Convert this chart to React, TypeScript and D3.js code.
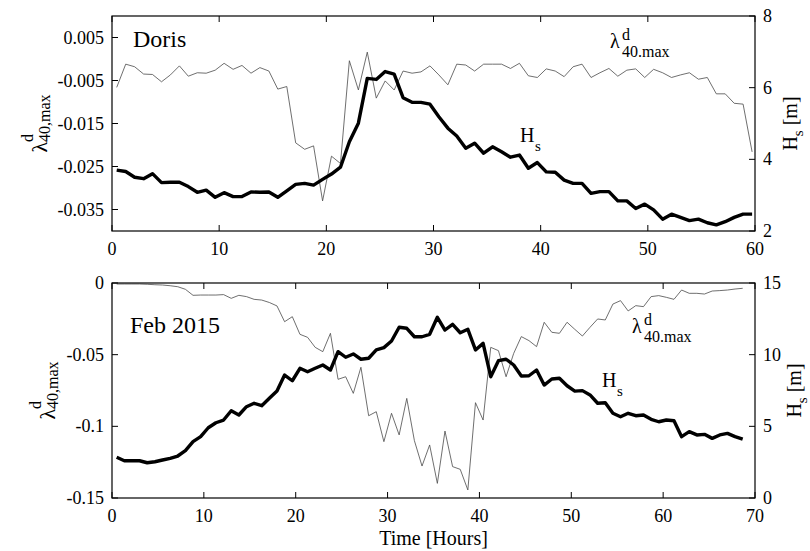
import React from 'react';
import * as d3 from 'd3';

// ---------- data ----------
const TOP_HOURS = [
  0.44, 1.28, 2.11, 2.95, 3.78, 4.62, 5.45, 6.29, 7.12, 7.96,
  8.79, 9.63, 10.46, 11.3, 12.13, 12.97, 13.8, 14.64, 15.47, 16.31,
  17.14, 17.98, 18.81, 19.65, 20.48, 21.32, 22.15, 22.99, 23.82, 24.66,
  25.49, 26.33, 27.16, 28.0, 28.83, 29.67, 30.5, 31.34, 32.17, 33.01,
  33.84, 34.68, 35.51, 36.35, 37.18, 38.02, 38.85, 39.69, 40.52, 41.36,
  42.19, 43.03, 43.86, 44.7, 45.53, 46.37, 47.2, 48.04, 48.87, 49.71,
  50.54, 51.38, 52.21, 53.05, 53.88, 54.72, 55.55, 56.39, 57.22, 58.06,
  58.89, 59.73,
];
const TOP_LAMBDA = [
  -0.0066, -0.0012, -0.0018, -0.0035, -0.0036, -0.0053, -0.0037, -0.0016, -0.004, -0.0032,
  -0.0033, -0.0026, -0.001, -0.0024, -0.0015, -0.0033, -0.002, -0.0028, -0.007, -0.0064,
  -0.0195, -0.021, -0.0202, -0.033, -0.0226, -0.0243, -0.0004, -0.0072, 0.0016, -0.0091,
  -0.0051, -0.0072, -0.0028, -0.0033, -0.003, -0.0016, -0.0037, -0.006, -0.0012, -0.0014,
  -0.0028, -0.0012, -0.0012, -0.0012, -0.0022, -0.001, -0.0039, -0.0043, -0.0023, -0.0028,
  -0.0041, -0.0018, -0.0012, -0.0043, -0.0032, -0.0022, -0.004, -0.0026, -0.0023, -0.0043,
  -0.0024, -0.0032, -0.0043, -0.0037, -0.0032, -0.0047, -0.0043, -0.0081, -0.0081, -0.0103,
  -0.0105, -0.0216,
];
const TOP_HS = [
  3.7, 3.66, 3.5, 3.46, 3.6, 3.35, 3.36, 3.36, 3.24, 3.08,
  3.14, 2.94, 3.07, 2.96, 2.96, 3.09, 3.08, 3.09, 2.94, 3.12,
  3.3, 3.33, 3.28, 3.44, 3.59, 3.78, 4.49, 5.01, 6.26, 6.23,
  6.45, 6.38, 5.72, 5.59, 5.59, 5.54, 5.19, 4.87, 4.65, 4.31,
  4.45, 4.17, 4.35, 4.21, 4.06, 4.12, 3.75, 3.91, 3.65, 3.64,
  3.42, 3.33, 3.33, 3.05, 3.1, 3.1, 2.84, 2.84, 2.63, 2.75,
  2.59, 2.33, 2.47, 2.38, 2.29, 2.33, 2.23, 2.17, 2.26, 2.38,
  2.47, 2.47,
];

const BOT_HOURS = [
  0.51, 1.34, 2.17, 3.0, 3.83, 4.67, 5.5, 6.33, 7.16, 7.99,
  8.82, 9.65, 10.48, 11.31, 12.15, 12.98, 13.81, 14.64, 15.47, 16.3,
  17.13, 17.96, 18.79, 19.63, 20.46, 21.29, 22.12, 22.95, 23.78, 24.61,
  25.44, 26.27, 27.1, 27.94, 28.77, 29.6, 30.43, 31.26, 32.09, 32.92,
  33.75, 34.58, 35.42, 36.25, 37.08, 37.91, 38.74, 39.57, 40.4, 41.23,
  42.07, 42.9, 43.73, 44.56, 45.39, 46.22, 47.05, 47.88, 48.71, 49.54,
  50.38, 51.21, 52.04, 52.87, 53.7, 54.53, 55.36, 56.19, 57.02, 57.86,
  58.69, 59.52, 60.35, 61.18, 62.01, 62.84, 63.67, 64.5, 65.34, 66.17,
  67.0, 67.83, 68.66,
];
const BOT_LAMBDA = [
  -0.0007, -0.0007, -0.0007, -0.0007, -0.0009, -0.0012, -0.0014, -0.0019, -0.0026, -0.0044,
  -0.0086, -0.0084, -0.0084, -0.0084, -0.0081, -0.0107, -0.0086, -0.0095, -0.0114, -0.0119,
  -0.0136, -0.016, -0.027, -0.0235, -0.0358, -0.0379, -0.0449, -0.0479, -0.0351, -0.0672,
  -0.0654, -0.077, -0.0588, -0.0926, -0.0898, -0.1107, -0.0909, -0.106, -0.0805, -0.11,
  -0.1277, -0.113, -0.1398, -0.1033, -0.1281, -0.13, -0.1444, -0.0835, -0.0956, -0.0449,
  -0.0472, -0.0654, -0.0491, -0.0374, -0.0402, -0.0444, -0.0274, -0.0344, -0.0351, -0.0274,
  -0.0323, -0.037, -0.0309, -0.0251, -0.0258, -0.0147, -0.0123, -0.0195, -0.0158, -0.0165,
  -0.0095, -0.0088, -0.01, -0.0114, -0.0049, -0.0072, -0.0072, -0.0077, -0.0056, -0.0053,
  -0.0049, -0.0042, -0.0037,
];
const BOT_HS = [
  2.84, 2.6, 2.6, 2.6, 2.46, 2.53, 2.65, 2.77, 2.93, 3.3,
  3.93, 4.28, 4.9, 5.25, 5.44, 6.09, 5.79, 6.37, 6.61, 6.44,
  6.96, 7.46, 8.58, 8.18, 9.05, 8.81, 9.05, 9.28, 8.93, 10.21,
  9.82, 10.05, 9.68, 9.75, 10.33, 10.49, 10.95, 11.91, 11.84, 11.25,
  11.25, 11.42, 12.61, 11.72, 12.12, 11.53, 11.77, 10.33, 10.79, 8.46,
  9.58, 9.68, 9.28, 8.51, 8.53, 8.93, 7.88, 8.3, 8.35, 7.83,
  7.46, 7.49, 7.19, 6.61, 6.65, 5.91, 5.67, 5.91, 5.74, 5.79,
  5.49, 5.32, 5.44, 5.39, 4.28, 4.63, 4.4, 4.44, 4.16, 4.4,
  4.51, 4.28, 4.1,
];

const TOP_X_TICKS = [0, 10, 20, 30, 40, 50, 60];
const TOP_L_TICKS = [0.005, -0.005, -0.015, -0.025, -0.035];
const TOP_R_TICKS = [2, 4, 6, 8];
const BOT_X_TICKS = [0, 10, 20, 30, 40, 50, 60, 70];
const BOT_L_TICKS = [0, -0.05, -0.1, -0.15];
const BOT_R_TICKS = [0, 5, 10, 15];

const TITLE_TOP = 'Doris';
const TITLE_BOT = 'Feb 2015';
const X_LABEL = 'Time [Hours]';

// ---------- layout ----------
const W = 810;
const H = 551;
const LEFT = 112;
const RIGHT = 755;
const FONT = '"Liberation Serif", "Times New Roman", serif';
const TICK = 6;

type PanelProps = {
  hours: number[];
  lam: number[];
  hs: number[];
  xDom: [number, number];
  xTicks: number[];
  lDom: [number, number];
  lTicks: number[];
  rDom: [number, number];
  rTicks: number[];
  top: number;
  bottom: number;
  title: string;
  titlePos: [number, number];
  lamPos: [number, number];
  hsPos: [number, number];
  yLabelX: number;
  rLabelX: number;
};

function Panel(p: PanelProps) {
  const x = d3.scaleLinear().domain(p.xDom).range([LEFT, RIGHT]);
  const yL = d3.scaleLinear().domain(p.lDom).range([p.bottom, p.top]);
  const yR = d3.scaleLinear().domain(p.rDom).range([p.bottom, p.top]);
  const lamLine = d3
    .line<number>()
    .x((_, i) => x(p.hours[i]))
    .y((d) => yL(d));
  const hsLine = d3
    .line<number>()
    .x((_, i) => x(p.hours[i]))
    .y((d) => yR(d));
  const midY = (p.top + p.bottom) / 2;
  return (
    <g>
      <path d={lamLine(p.lam) || ''} fill="none" stroke="#4a4a4a" strokeWidth={0.8} />
      <path
        d={hsLine(p.hs) || ''}
        fill="none"
        stroke="#000"
        strokeWidth={3.4}
        strokeLinejoin="round"
      />
      <rect
        x={LEFT}
        y={p.top}
        width={RIGHT - LEFT}
        height={p.bottom - p.top}
        fill="none"
        stroke="#000"
        strokeWidth={1.2}
      />
      {p.xTicks.map((t) => (
        <g key={'x' + t}>
          <line x1={x(t)} x2={x(t)} y1={p.bottom} y2={p.bottom - TICK} stroke="#000" strokeWidth={1} />
          <line x1={x(t)} x2={x(t)} y1={p.top} y2={p.top + TICK} stroke="#000" strokeWidth={1} />
          <text x={x(t)} y={p.bottom + 24} textAnchor="middle" fontSize={18} fontFamily={FONT}>
            {String(t)}
          </text>
        </g>
      ))}
      {p.lTicks.map((t) => (
        <g key={'l' + t}>
          <line x1={LEFT} x2={LEFT + TICK} y1={yL(t)} y2={yL(t)} stroke="#000" strokeWidth={1} />
          <text x={104} y={yL(t) + 6} textAnchor="end" fontSize={18} fontFamily={FONT}>
            {String(t)}
          </text>
        </g>
      ))}
      {p.rTicks.map((t) => (
        <g key={'r' + t}>
          <line x1={RIGHT} x2={RIGHT - TICK} y1={yR(t)} y2={yR(t)} stroke="#000" strokeWidth={1} />
          <text x={763} y={yR(t) + 6} textAnchor="start" fontSize={18} fontFamily={FONT}>
            {String(t)}
          </text>
        </g>
      ))}
      <text x={p.titlePos[0]} y={p.titlePos[1]} fontSize={24} fontFamily={FONT}>
        {p.title}
      </text>
      {/* lambda annotation */}
      <g fontFamily={FONT}>
        <text x={p.lamPos[0]} y={p.lamPos[1]} fontSize={20}>λ</text>
        <text x={p.lamPos[0] + 12} y={p.lamPos[1] - 8} fontSize={16}>d</text>
        <text x={p.lamPos[0] + 12} y={p.lamPos[1] + 9} fontSize={16}>40.max</text>
      </g>
      {/* Hs annotation */}
      <g fontFamily={FONT}>
        <text x={p.hsPos[0]} y={p.hsPos[1]} fontSize={20}>H</text>
        <text x={p.hsPos[0] + 15} y={p.hsPos[1] + 9} fontSize={15}>s</text>
      </g>
      {/* left y label */}
      <g transform={`translate(${p.yLabelX},${midY}) rotate(-90)`} fontFamily={FONT}>
        <text textAnchor="middle" fontSize={22}>
          λ
          <tspan fontSize={16} dy={-14}>d</tspan>
          <tspan fontSize={16} dx={-8} dy={17}>40,max</tspan>
        </text>
      </g>
      {/* right y label */}
      <g transform={`translate(${p.rLabelX},${midY}) rotate(-90)`} fontFamily={FONT}>
        <text textAnchor="middle" fontSize={20}>
          H
          <tspan fontSize={15} dy={6}>s</tspan>
          <tspan dy={-6}> [m]</tspan>
        </text>
      </g>
    </g>
  );
}

export default function App() {
  return (
    <svg
      width={W}
      height={H}
      viewBox={`0 0 ${W} ${H}`}
      style={{ position: 'absolute', left: 0, top: 0, background: '#fff' }}
    >
      <rect x={0} y={0} width={W} height={H} fill="#fff" />
      <Panel
        hours={TOP_HOURS}
        lam={TOP_LAMBDA}
        hs={TOP_HS}
        xDom={[0, 60]}
        xTicks={TOP_X_TICKS}
        lDom={[-0.04, 0.01]}
        lTicks={TOP_L_TICKS}
        rDom={[2, 8]}
        rTicks={TOP_R_TICKS}
        top={16}
        bottom={231}
        title={TITLE_TOP}
        titlePos={[133, 47]}
        lamPos={[610, 48]}
        hsPos={[520, 142]}
        yLabelX={47}
        rLabelX={797}
      />
      <Panel
        hours={BOT_HOURS}
        lam={BOT_LAMBDA}
        hs={BOT_HS}
        xDom={[0, 70]}
        xTicks={BOT_X_TICKS}
        lDom={[-0.15, 0]}
        lTicks={BOT_L_TICKS}
        rDom={[0, 15]}
        rTicks={BOT_R_TICKS}
        top={283}
        bottom={498}
        title={TITLE_BOT}
        titlePos={[130, 333]}
        lamPos={[632, 333]}
        hsPos={[602, 387]}
        yLabelX={55}
        rLabelX={801}
      />
      <text x={(LEFT + RIGHT) / 2} y={545} textAnchor="middle" fontSize={20} fontFamily={FONT}>
        {X_LABEL}
      </text>
    </svg>
  );
}
